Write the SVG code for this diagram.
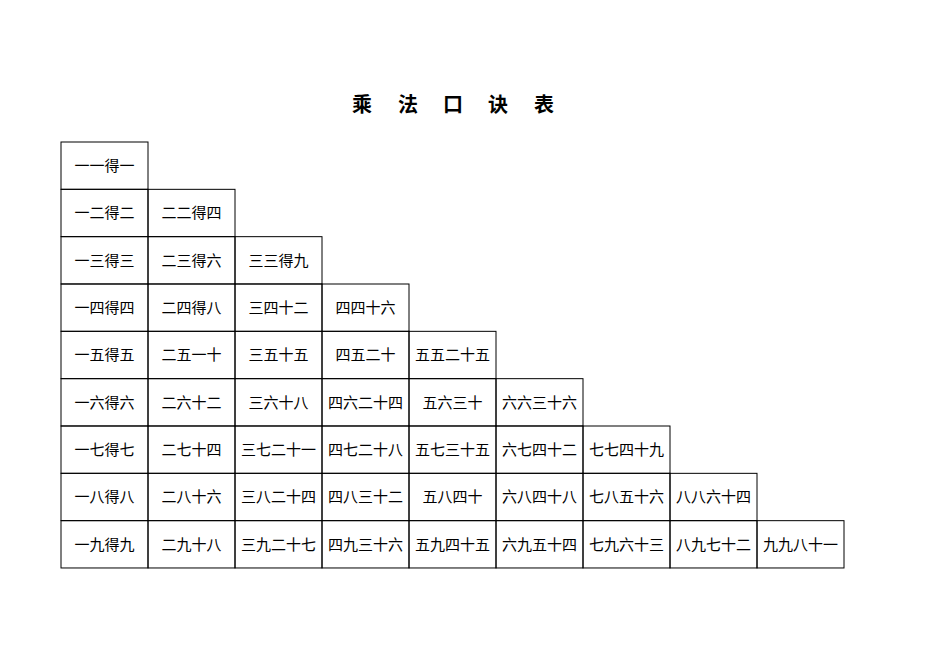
<svg xmlns="http://www.w3.org/2000/svg" width="950" height="672" viewBox="0 0 950 672">
<style>
rect{fill:none;stroke:#000;stroke-width:1}
text{font-family:"Noto Sans CJK SC","Noto Sans CJK JP",sans-serif;font-size:15px;text-anchor:middle;fill:#000}
.t{font-size:20px;font-weight:bold}
</style>
<rect x="0" y="0" width="950" height="672" style="fill:#fff;stroke:none"/>
<g id="title"><text class="t" x="362" y="112">乘</text><text class="t" x="408" y="112">法</text><text class="t" x="453" y="112">口</text><text class="t" x="498" y="112">诀</text><text class="t" x="544" y="112">表</text></g>
<g id="r1"><rect x="61" y="142" width="87" height="47.3"/><text x="104.5" y="171">一一得一</text></g>
<g id="r2" transform="translate(0,47.33)">
<rect x="61" y="142" width="87" height="47.3"/><text x="104.5" y="171">一二得二</text>
<rect x="148" y="142" width="87" height="47.3"/><text x="191.5" y="171">二二得四</text></g>
<g id="r3" transform="translate(0,94.67)">
<rect x="61" y="142" width="87" height="47.3"/><text x="104.5" y="171">一三得三</text>
<rect x="148" y="142" width="87" height="47.3"/><text x="191.5" y="171">二三得六</text>
<rect x="235" y="142" width="87" height="47.3"/><text x="278.5" y="171">三三得九</text></g>
<g id="r4" transform="translate(0,142)">
<rect x="61" y="142" width="87" height="47.3"/><text x="104.5" y="171">一四得四</text>
<rect x="148" y="142" width="87" height="47.3"/><text x="191.5" y="171">二四得八</text>
<rect x="235" y="142" width="87" height="47.3"/><text x="278.5" y="171">三四十二</text>
<rect x="322" y="142" width="87" height="47.3"/><text x="365.5" y="171">四四十六</text></g>
<g id="r5" transform="translate(0,189.33)">
<rect x="61" y="142" width="87" height="47.3"/><text x="104.5" y="171">一五得五</text>
<rect x="148" y="142" width="87" height="47.3"/><text x="191.5" y="171">二五一十</text>
<rect x="235" y="142" width="87" height="47.3"/><text x="278.5" y="171">三五十五</text>
<rect x="322" y="142" width="87" height="47.3"/><text x="365.5" y="171">四五二十</text>
<rect x="409" y="142" width="87" height="47.3"/><text x="452.5" y="171">五五二十五</text></g>
<g id="r6" transform="translate(0,236.67)">
<rect x="61" y="142" width="87" height="47.3"/><text x="104.5" y="171">一六得六</text>
<rect x="148" y="142" width="87" height="47.3"/><text x="191.5" y="171">二六十二</text>
<rect x="235" y="142" width="87" height="47.3"/><text x="278.5" y="171">三六十八</text>
<rect x="322" y="142" width="87" height="47.3"/><text x="365.5" y="171">四六二十四</text>
<rect x="409" y="142" width="87" height="47.3"/><text x="452.5" y="171">五六三十</text>
<rect x="496" y="142" width="87" height="47.3"/><text x="539.5" y="171">六六三十六</text></g>
<g id="r7" transform="translate(0,284)">
<rect x="61" y="142" width="87" height="47.3"/><text x="104.5" y="171">一七得七</text>
<rect x="148" y="142" width="87" height="47.3"/><text x="191.5" y="171">二七十四</text>
<rect x="235" y="142" width="87" height="47.3"/><text x="278.5" y="171">三七二十一</text>
<rect x="322" y="142" width="87" height="47.3"/><text x="365.5" y="171">四七二十八</text>
<rect x="409" y="142" width="87" height="47.3"/><text x="452.5" y="171">五七三十五</text>
<rect x="496" y="142" width="87" height="47.3"/><text x="539.5" y="171">六七四十二</text>
<rect x="583" y="142" width="87" height="47.3"/><text x="626.5" y="171">七七四十九</text></g>
<g id="r8" transform="translate(0,331.33)">
<rect x="61" y="142" width="87" height="47.3"/><text x="104.5" y="171">一八得八</text>
<rect x="148" y="142" width="87" height="47.3"/><text x="191.5" y="171">二八十六</text>
<rect x="235" y="142" width="87" height="47.3"/><text x="278.5" y="171">三八二十四</text>
<rect x="322" y="142" width="87" height="47.3"/><text x="365.5" y="171">四八三十二</text>
<rect x="409" y="142" width="87" height="47.3"/><text x="452.5" y="171">五八四十</text>
<rect x="496" y="142" width="87" height="47.3"/><text x="539.5" y="171">六八四十八</text>
<rect x="583" y="142" width="87" height="47.3"/><text x="626.5" y="171">七八五十六</text>
<rect x="670" y="142" width="87" height="47.3"/><text x="713.5" y="171">八八六十四</text></g>
<g id="r9" transform="translate(0,378.67)">
<rect x="61" y="142" width="87" height="47.3"/><text x="104.5" y="171">一九得九</text>
<rect x="148" y="142" width="87" height="47.3"/><text x="191.5" y="171">二九十八</text>
<rect x="235" y="142" width="87" height="47.3"/><text x="278.5" y="171">三九二十七</text>
<rect x="322" y="142" width="87" height="47.3"/><text x="365.5" y="171">四九三十六</text>
<rect x="409" y="142" width="87" height="47.3"/><text x="452.5" y="171">五九四十五</text>
<rect x="496" y="142" width="87" height="47.3"/><text x="539.5" y="171">六九五十四</text>
<rect x="583" y="142" width="87" height="47.3"/><text x="626.5" y="171">七九六十三</text>
<rect x="670" y="142" width="87" height="47.3"/><text x="713.5" y="171">八九七十二</text>
<rect x="757" y="142" width="87" height="47.3"/><text x="800.5" y="171">九九八十一</text></g>
</svg>
